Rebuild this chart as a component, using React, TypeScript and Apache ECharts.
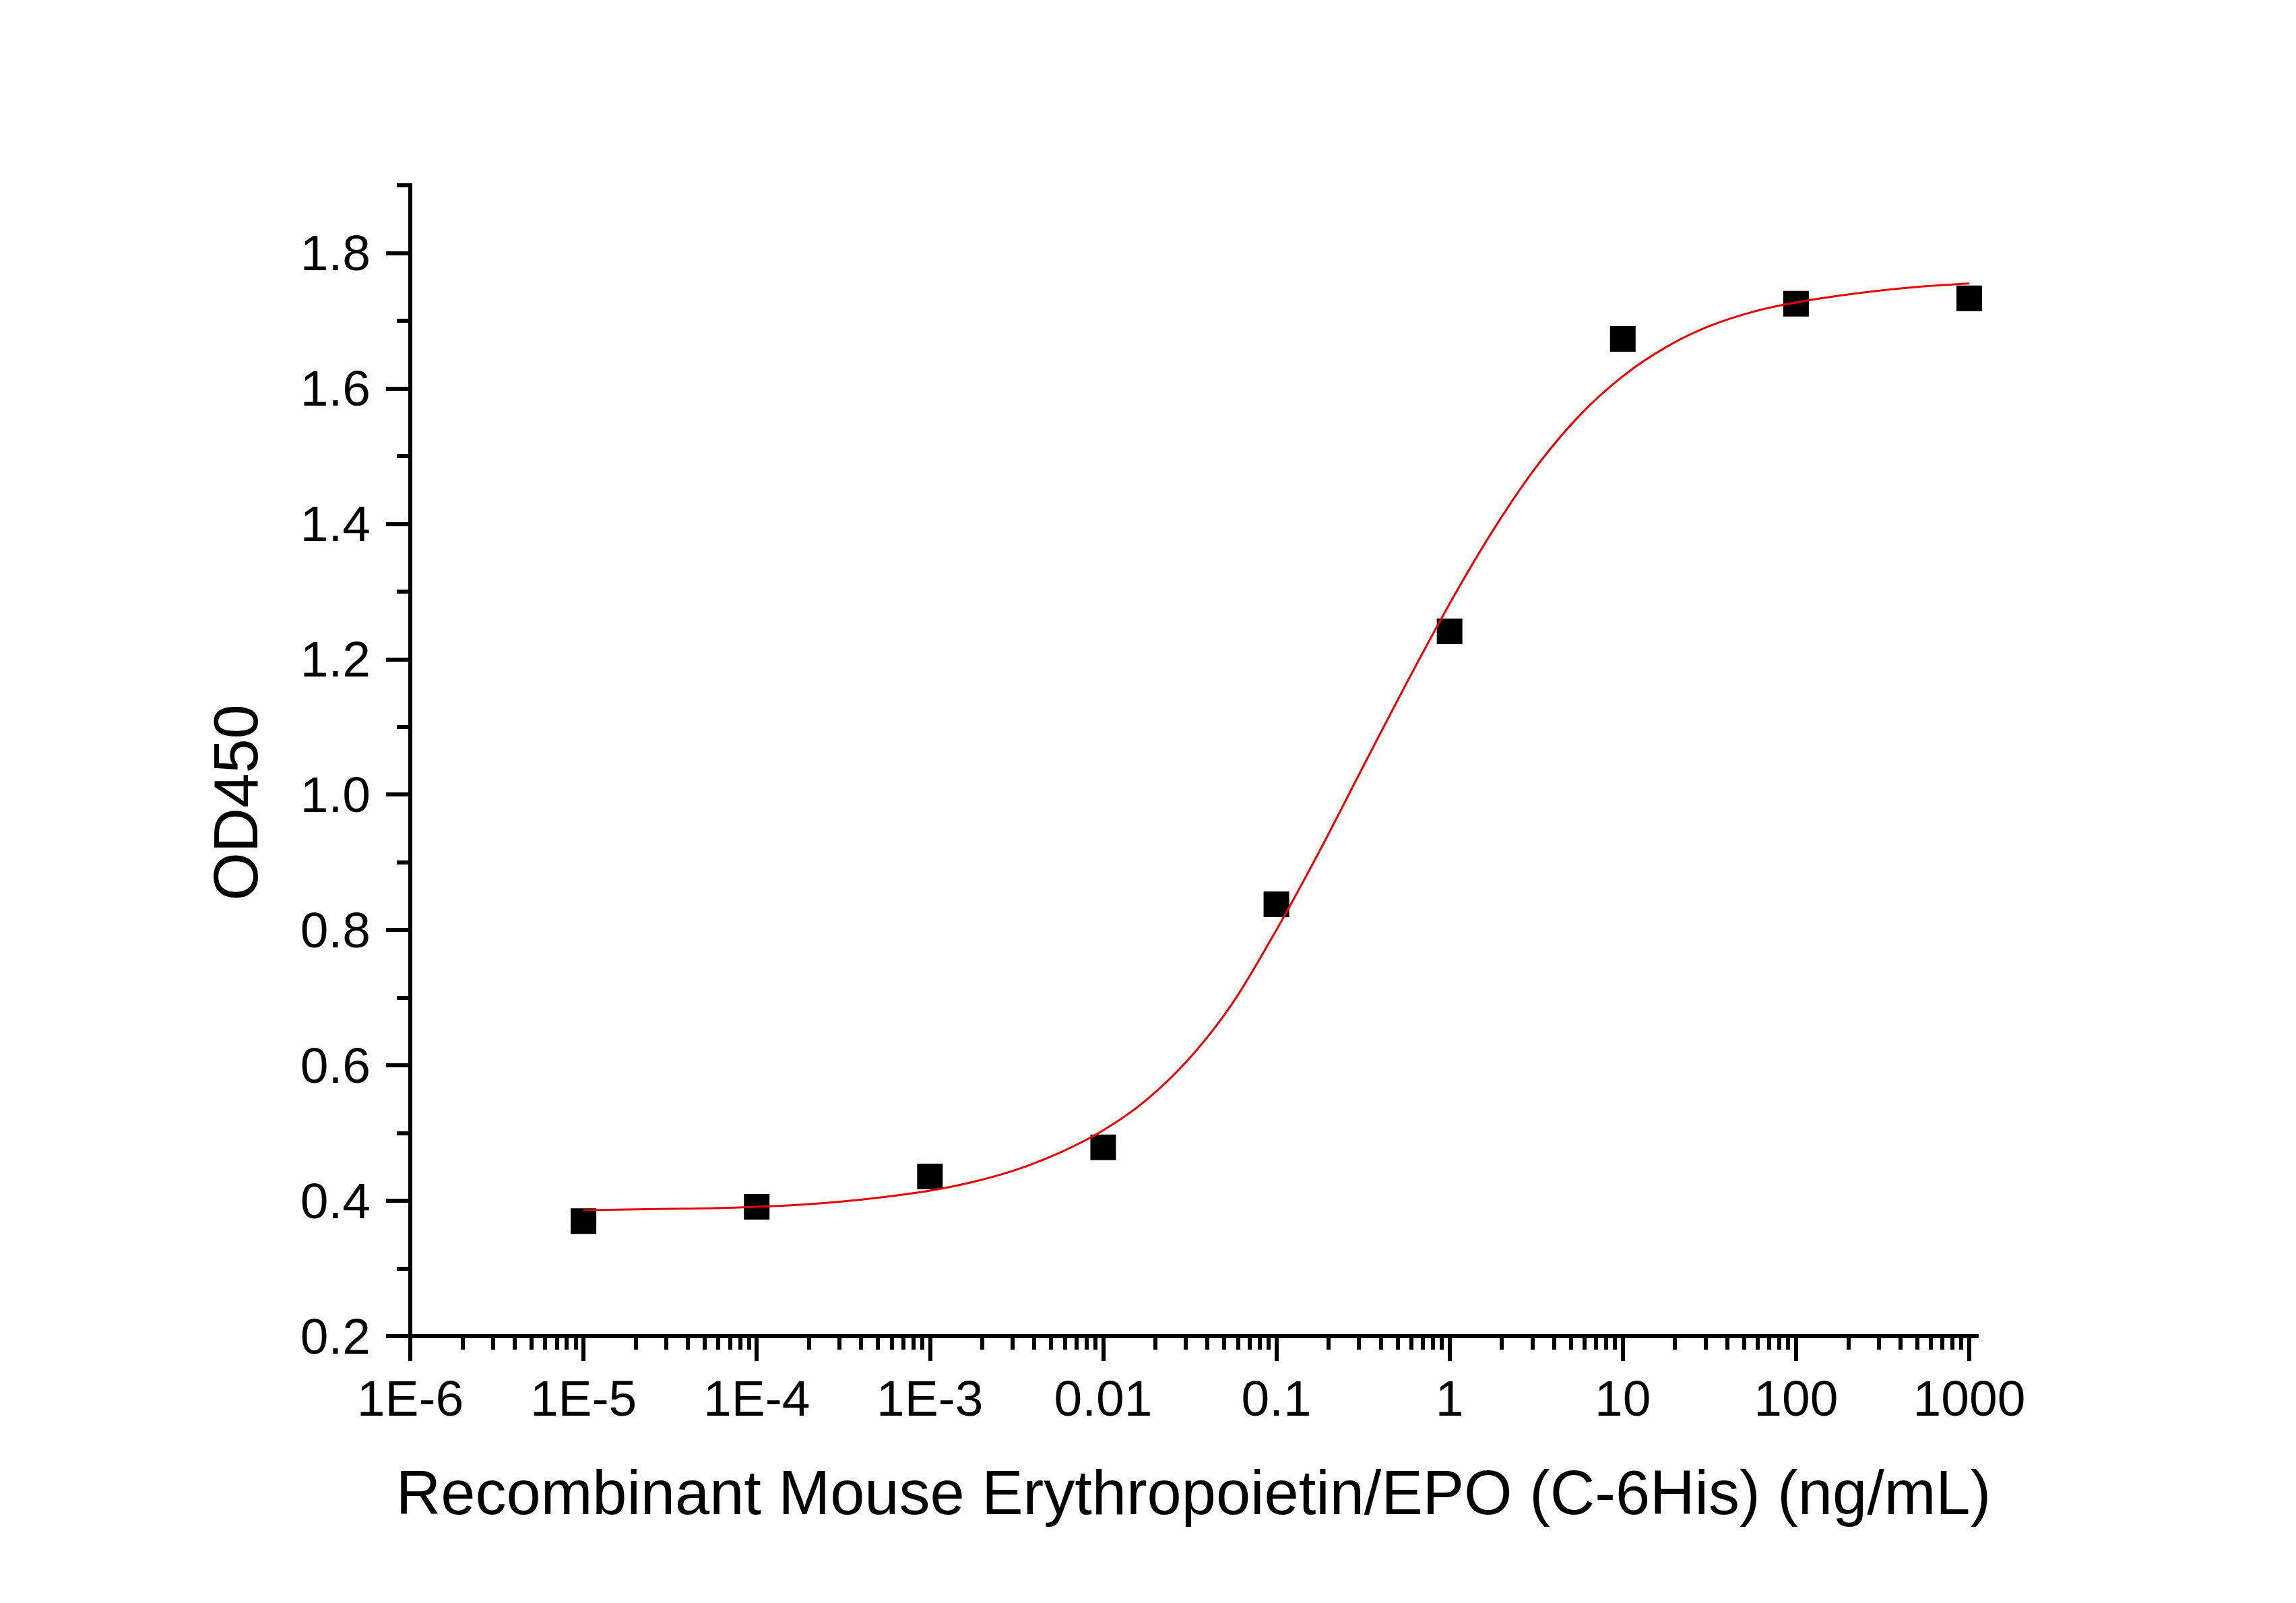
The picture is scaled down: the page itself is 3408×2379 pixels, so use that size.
import React, { useEffect, useRef } from "react";
import * as echarts from "echarts";

// Measured points: concentration (ng/mL) and OD450 readings
const concentrations = [1e-5, 1e-4, 1e-3, 0.01, 0.1, 1, 10, 100, 1000];
const od450 = [0.37, 0.391, 0.436, 0.479, 0.838, 1.241, 1.673, 1.725, 1.733];

// Fitted dose-response curve, sampled every quarter decade of log10(concentration)
const fitLogConc = [
  -5.0, -4.75, -4.5, -4.25, -4.0, -3.75, -3.5, -3.25, -3.0, -2.75, -2.5, -2.25,
  -2.0, -1.75, -1.5, -1.25, -1.0, -0.75, -0.5, -0.25, 0.0, 0.25, 0.5, 0.75,
  1.0, 1.25, 1.5, 1.75, 2.0, 2.25, 2.5, 2.75, 3.0,
];
const fitOD = [
  0.386, 0.387, 0.388, 0.389, 0.391, 0.394, 0.399, 0.406, 0.415, 0.428, 0.446,
  0.471, 0.504, 0.549, 0.611, 0.693, 0.8, 0.917, 1.041, 1.164, 1.282, 1.39,
  1.484, 1.56, 1.618, 1.661, 1.692, 1.713, 1.727, 1.737, 1.745, 1.751, 1.755,
];

// Axis ticks
const xTickExponents = [-6, -5, -4, -3, -2, -1, 0, 1, 2, 3];
const xTickLabels = ["1E-6", "1E-5", "1E-4", "1E-3", "0.01", "0.1", "1", "10", "100", "1000"];
const xMinorMultipliers = [2, 3, 4, 5, 6, 7, 8, 9];
const yTicks = [0.2, 0.4, 0.6, 0.8, 1.0, 1.2, 1.4, 1.6, 1.8];
const yMinorTicks = [0.3, 0.5, 0.7, 0.9, 1.1, 1.3, 1.5, 1.7, 1.9];

const X_MIN = -6;
const X_MAX = 3.0428;
const Y_MIN = 0.2;
const Y_MAX = 1.9;

const FONT = '"Liberation Sans", Arial, Helvetica, sans-serif';
const AXIS_W = 6;

export default function App() {
  const ref = useRef<HTMLDivElement>(null);

  useEffect(() => {
    if (!ref.current) return;
    const chart = echarts.init(ref.current, undefined, { renderer: "svg" });

    const xMinor: number[] = [];
    for (let d = -6; d < 3; d++) {
      for (const k of xMinorMultipliers) xMinor.push(Math.log10(k * Math.pow(10, d)));
    }

    const grid = { left: 609, top: 275, width: 2325, height: 1708, containLabel: false };

    chart.setOption({
      animation: false,
      backgroundColor: "#ffffff",
      grid,
      xAxis: [
        {
          type: "value",
          min: X_MIN,
          max: X_MAX,
          position: "bottom",
          name: "Recombinant Mouse Erythropoietin/EPO (C-6His) (ng/mL)",
          nameLocation: "middle",
          nameGap: 186,
          nameTextStyle: { fontFamily: FONT, fontSize: 92, color: "#000" },
          axisLine: { show: true, onZero: false, lineStyle: { color: "#000", width: AXIS_W, cap: "square" } },
          axisTick: {
            show: true,
            inside: false,
            length: 37,
            customValues: xTickExponents,
            lineStyle: { color: "#000", width: AXIS_W },
          },
          axisLabel: {
            show: true,
            customValues: xTickExponents,
            margin: 54,
            fontFamily: FONT,
            fontSize: 75,
            color: "#000",
            formatter: (v: number) => {
              const i = xTickExponents.indexOf(Math.round(v));
              return i >= 0 ? xTickLabels[i] : "";
            },
          },
          splitLine: { show: false },
        },
        {
          type: "value",
          min: X_MIN,
          max: X_MAX,
          position: "bottom",
          offset: 0,
          axisLine: { show: false, onZero: false },
          axisTick: {
            show: true,
            inside: false,
            length: 20,
            customValues: xMinor,
            lineStyle: { color: "#000", width: AXIS_W },
          },
          axisLabel: { show: false },
          splitLine: { show: false },
        },
      ],
      yAxis: [
        {
          type: "value",
          min: Y_MIN,
          max: Y_MAX,
          interval: 0.2,
          position: "left",
          axisLine: { show: true, onZero: false, lineStyle: { color: "#000", width: AXIS_W, cap: "square" } },
          axisTick: {
            show: true,
            inside: false,
            length: 36,
            customValues: yTicks,
            lineStyle: { color: "#000", width: AXIS_W },
          },
          axisLabel: {
            show: true,
            customValues: yTicks,
            margin: 59,
            fontFamily: FONT,
            fontSize: 75,
            color: "#000",
            formatter: (v: number) => v.toFixed(1),
          },
          splitLine: { show: false },
        },
        {
          type: "value",
          min: Y_MIN,
          max: Y_MAX,
          interval: 0.2,
          position: "left",
          offset: 0,
          axisLine: { show: false, onZero: false },
          axisTick: {
            show: true,
            inside: false,
            length: 20,
            customValues: yMinorTicks,
            lineStyle: { color: "#000", width: AXIS_W },
          },
          axisLabel: { show: false },
          splitLine: { show: false },
        },
      ],
      graphic: [
        {
          type: "text",
          x: 350,
          y: 1191,
          rotation: Math.PI / 2,
          style: {
            text: "OD450",
            fontFamily: FONT,
            fontSize: 92,
            fill: "#000",
            align: "center",
            verticalAlign: "middle",
          },
        },
      ],
      series: [
        {
          type: "scatter",
          xAxisIndex: 0,
          yAxisIndex: 0,
          symbol: "rect",
          symbolSize: 38,
          itemStyle: { color: "#000", opacity: 1 },
          data: concentrations.map((c, i) => [Math.log10(c), od450[i]]),
          z: 2,
        },
        {
          type: "line",
          xAxisIndex: 0,
          yAxisIndex: 0,
          showSymbol: false,
          symbol: "none",
          smooth: 0.3,
          lineStyle: { color: "#e60000", width: 3 },
          data: fitLogConc.map((x, i) => [x, fitOD[i]]),
          z: 3,
        },
      ],
    });

    return () => chart.dispose();
  }, []);

  return (
    <div
      ref={ref}
      style={{ position: "fixed", left: 0, top: 0, width: 3408, height: 2379, background: "#fff" }}
    />
  );
}
